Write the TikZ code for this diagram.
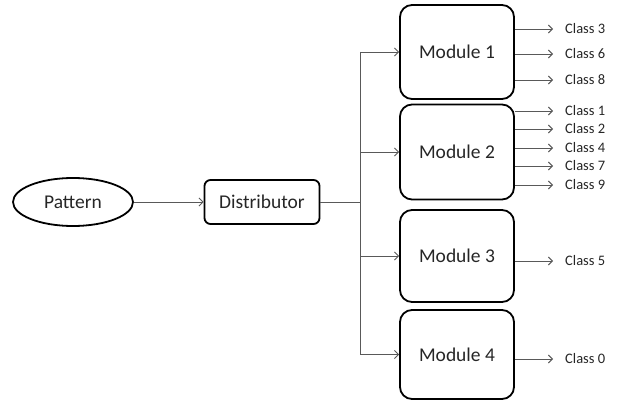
\documentclass[tikz,border=0pt]{standalone}
\usepackage{fontspec}
\setmainfont{Carlito}
\usetikzlibrary{arrows.meta,shapes.geometric}
\begin{document}
\begin{tikzpicture}[x=1pt,y=-1pt,
  box/.style={draw=black,line width=1.8pt,rounded corners=12pt,minimum width=114pt,inner sep=0pt},
  conn/.style={draw=black!65,line width=0.9pt},
  arr/.style={conn,-{Straight Barb[length=4pt,width=8pt,line width=0.9pt]}},
  lbl/.style={font=\fontsize{19.5}{22}\selectfont,text=black!85},
  cls/.style={font=\fontsize{14.5}{16}\selectfont,text=black!85,anchor=west,inner sep=0pt}]
\useasboundingbox (0,0) rectangle (617,403);

% input and distributor
\node[ellipse,draw=black,line width=1.8pt,minimum width=120pt,minimum height=48pt,inner sep=0pt,lbl] (pat) at (73,202) {Pattern};
\node[draw=black,line width=1.8pt,rounded corners=6pt,minimum width=115pt,minimum height=44pt,inner sep=0pt,lbl] (dist) at (262,202) {Distributor};

% modules
\node[box,minimum height=94pt,lbl] (m1) at (457,52) {Module 1};
\node[box,minimum height=95pt,lbl] (m2) at (457,152) {Module 2};
\node[box,minimum height=92pt,lbl] (m3) at (457,256) {Module 3};
\node[box,minimum height=89pt,lbl] (m4) at (457,354.5) {Module 4};

% class labels
\node[cls] (c3) at (565,29) {Class 3};
\node[cls] (c6) at (565,54) {Class 6};
\node[cls] (c8) at (565,80) {Class 8};
\node[cls] (c1) at (565,111) {Class 1};
\node[cls] (c2) at (565,129) {Class 2};
\node[cls] (c4) at (565,148) {Class 4};
\node[cls] (c7) at (565,166) {Class 7};
\node[cls] (c9) at (565,185) {Class 9};
\node[cls] (c5) at (565,261) {Class 5};
\node[cls] (c0) at (565,359) {Class 0};

% pattern to distributor
\draw[arr] (pat.east) -- (dist.west);

% distributor trunk and branches
\coordinate (t) at (360,202);
\draw[conn] (dist.east) -- (t);
\draw[conn] (t |- m1.west) -- (t |- m4.west);
\foreach \m in {m1,m2,m3,m4}
  \draw[arr] (t |- \m.west) -- (\m.west);

% module outputs
\foreach \m/\c in {m1/c3,m1/c6,m1/c8,m2/c1,m2/c2,m2/c4,m2/c7,m2/c9,m3/c5,m4/c0}
  \draw[arr] (\m.east |- \c.west) -- ([xshift=-12pt]\c.west);
\end{tikzpicture}
\end{document}
